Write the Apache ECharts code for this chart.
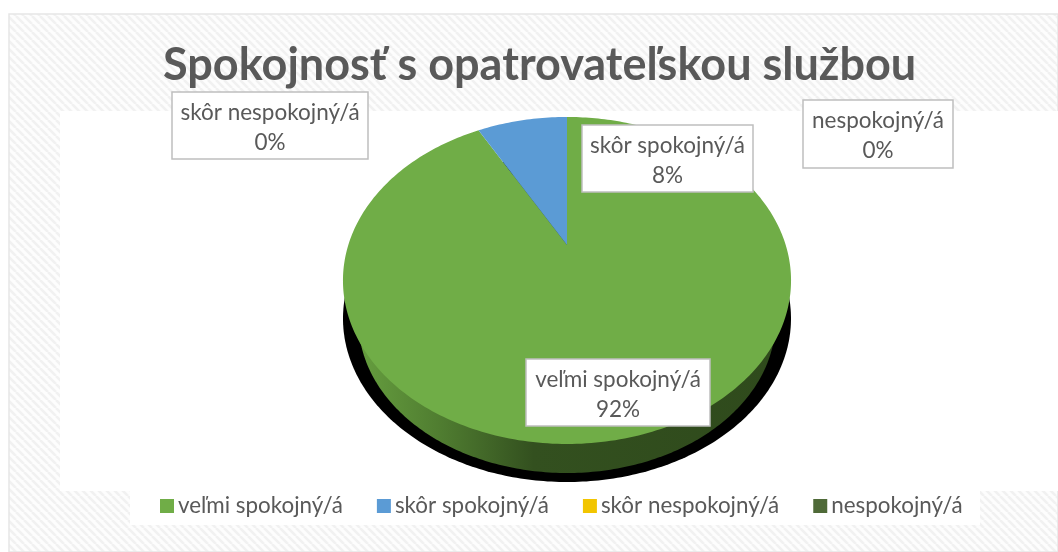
<!DOCTYPE html>
<html>
<head>
<meta charset="utf-8">
<style>html,body{margin:0;padding:0;background:#fff}#c{width:1058px;height:552px}</style>
<script src="https://cdn.jsdelivr.net/npm/echarts@6/dist/echarts.min.js"></script>
</head>
<body>
<div id="c"></div>
<script>
var titleText = 'Spokojnosť s opatrovateľskou službou';
var categories = ['veľmi spokojný/á', 'skôr spokojný/á', 'skôr nespokojný/á', 'nespokojný/á'];
var values = [92, 8, 0, 0];
var colors = ['#70ad47', '#5b9bd5', '#f2c500', '#4f6a38'];

// Layout of the callout boxes, in the order of the categories: x, y, width, height
var boxLayout = [[526, 359, 184, 67], [582, 125, 171, 67], [172, 92, 196, 67], [803, 100, 150, 68]];

var FONT = 'Lato, "Noto Sans", sans-serif';
var chart = echarts.init(document.getElementById('c'), null, {renderer: 'canvas'});

// hatched backdrop
var tile = document.createElement('canvas');
tile.width = 8; tile.height = 8;
var g = tile.getContext('2d');
g.fillStyle = '#fdfdfd'; g.fillRect(0, 0, 8, 8);
g.strokeStyle = '#f1f1f1'; g.lineWidth = 2.6;
[-8, 0, 8].forEach(function (o) {
  g.beginPath(); g.moveTo(o, 0); g.lineTo(o + 8, 8); g.stroke();
});

// Perspective view of the pie disc
var view = {cx: 567, cy: 245, a: 155.8, b: 218.7, k: 0.217};
function project(deg) {
  var t = deg * Math.PI / 180, u = Math.sin(t), v = Math.cos(t), w = 1 + view.k * v;
  return [view.cx + view.b * u / w, view.cy - view.a * v / w];
}
function ellipse(cx, cy, rx, ry) {
  var pts = [];
  for (var d = 0; d < 360; d += 1) {
    var t = d * Math.PI / 180;
    pts.push([cx + rx * Math.cos(t), cy + ry * Math.sin(t)]);
  }
  return pts;
}
var total = values.reduce(function (s, x) { return s + x; }, 0);
var sideFill = new echarts.graphic.LinearGradient(0, 0, 1, 0, [
  {offset: 0, color: '#669e3f'}, {offset: 0.2, color: '#4f7c30'},
  {offset: 0.42, color: '#33501f'}, {offset: 1, color: '#2f4a1c'}
]);

function makeRender(index) {
  return function (params, api) {
    var val = api.value(0);
    var before = 0;
    for (var i = 0; i < index; i++) before += values[i];
    var start = before / total * 360, end = (before + val) / total * 360;
    var children = [];
    if (index === 0) {
      children.push({type: 'polygon', shape: {points: ellipse(567, 318.5, 224, 163.5)}, style: {fill: '#000'}});
      children.push({type: 'polygon', shape: {points: ellipse(567, 321, 208.5, 152)}, style: {fill: sideFill}});
    }
    if (val > 0) {
      var pts = [[view.cx, view.cy]];
      for (var d = start; d < end; d += 1) pts.push(project(d));
      pts.push(project(end));
      children.push({type: 'polygon', shape: {points: pts}, style: {fill: colors[index]}});
    }
    var box = boxLayout[index];
    children.push({type: 'rect', shape: {x: box[0], y: box[1], width: box[2], height: box[3]},
      style: {fill: '#fff', stroke: '#bfbfbf', lineWidth: 1.5}});
    children.push({type: 'text', style: {
      text: categories[index] + '\n' + val + '%',
      x: box[0] + box[2] / 2, y: box[1] + box[3] / 2 + 2,
      align: 'center', verticalAlign: 'middle',
      fill: '#595959', font: '22.5px ' + FONT, lineHeight: 30
    }});
    return {type: 'group', children: children};
  };
}

var series = categories.map(function (name, i) {
  return {
    type: 'custom', name: name, coordinateSystem: 'none', silent: true, animation: false,
    itemStyle: {color: colors[i]},
    data: [[values[i]]],
    renderItem: makeRender(i)
  };
});

chart.setOption({
  animation: false,
  backgroundColor: '#ffffff',
  title: {
    text: titleText, left: 158, top: 38,
    textStyle: {fontFamily: FONT, fontSize: 45, fontWeight: 'bold', color: '#595959'}
  },
  legend: {
    left: 155, top: 490, icon: 'rect', itemWidth: 14, itemHeight: 14, itemGap: 34,
    itemStyle: {borderWidth: 0},
    selectedMode: false,
    textStyle: {fontFamily: FONT, fontSize: 22.4, color: '#595959', padding: [0, 0, 0, -1]},
    data: categories
  },
  graphic: [
    {type: 'rect', z: -10, shape: {x: 9, y: 14, width: 1049, height: 538},
      style: {fill: {image: tile, repeat: 'repeat'}, stroke: '#e6e6e6', lineWidth: 1.5}},
    {type: 'rect', z: -9, shape: {x: 60, y: 111, width: 998, height: 380}, style: {fill: '#fff'}},
    {type: 'rect', z: -9, shape: {x: 130, y: 491, width: 850, height: 34}, style: {fill: '#fff'}}
  ],
  series: series
});
</script>
</body>
</html>
